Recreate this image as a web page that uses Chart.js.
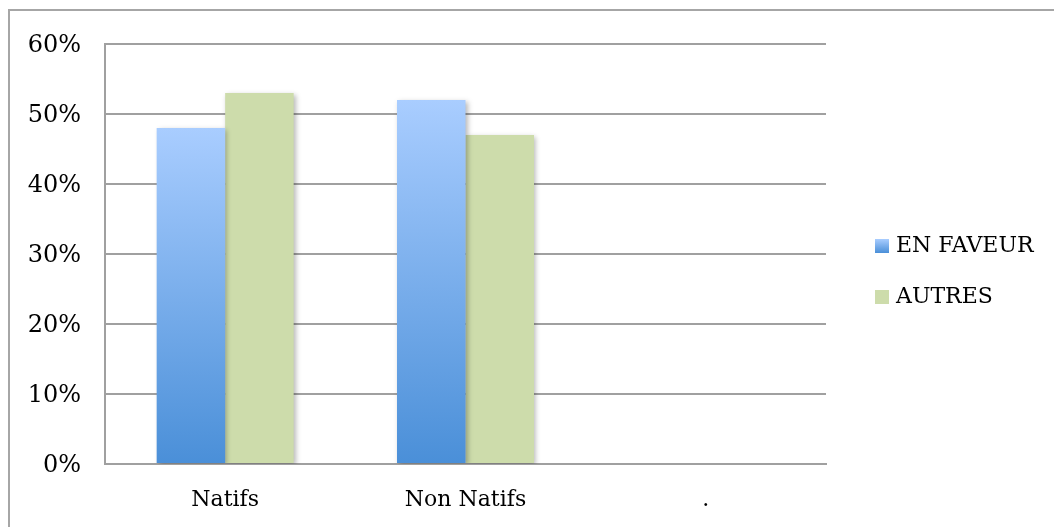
<!DOCTYPE html>
<html>
<head>
<meta charset="utf-8">
<script src="https://cdn.jsdelivr.net/npm/chart.js@4/dist/chart.umd.min.js"></script>
<style>
  html, body { margin: 0; padding: 0; background: #fff; overflow: hidden; }
  #cadre { position: absolute; left: 0; top: 0; width: 1054px; height: 527px; }
  #bordure { position: absolute; left: 8px; top: 9px; width: 1100px; height: 600px;
             border: 2px solid #a6a6a6; box-sizing: border-box; pointer-events: none; }
</style>
</head>
<body>
<div id="cadre">
  <canvas id="grafico" width="1054" height="527"></canvas>
  <div id="bordure"></div>
</div>
<script>
const categorie = ["Natifs", "Non Natifs", "."];
const enFaveur = [48, 52, null];
const autres = [53, 47, null];
const tickPercentuali = [0, 10, 20, 30, 40, 50, 60];

const fontSerif = "'DejaVu Serif', 'Liberation Serif', serif";
const bluChiaro = '#a9cdff';
const bluScuro = '#4a8fd8';
const verde = '#cddcab';

function gradiente(ctx, y0, y1) {
    const g = ctx.createLinearGradient(0, y0, 0, y1);
    g.addColorStop(0, bluChiaro);
    g.addColorStop(1, bluScuro);
    return g;
}

// gradiente verticale del blu, calcolato su ogni barra
function gradienteBlu(context) {
    const chart = context.chart;
    const yScale = chart.scales.y;
    if (!yScale || !context.parsed || context.parsed.y == null) return '#78aee8';
    const top = yScale.getPixelForValue(context.parsed.y);
    const base = yScale.getPixelForValue(0);
    if (!isFinite(top) || !isFinite(base) || top === base) return '#78aee8';
    return gradiente(chart.ctx, top, base);
}

// ombra leggera dietro le barre
const ombraBarre = {
    id: 'ombraBarre',
    beforeDatasetsDraw(chart) {
        const ctx = chart.ctx;
        ctx.save();
        ctx.shadowColor = 'rgba(0,0,0,0.28)';
        ctx.shadowBlur = 5;
        ctx.shadowOffsetX = 2;
        ctx.shadowOffsetY = 2;
    },
    afterDatasetsDraw(chart) {
        chart.ctx.restore();
    }
};

// legenda a destra dell'area del grafico
const legendaDestra = {
    id: 'legendaDestra',
    afterDraw(chart) {
        const ctx = chart.ctx;
        const area = chart.chartArea;
        const lato = 14;
        const passo = 51;
        const x = area.right + 49;
        const n = chart.data.datasets.length;
        const centro = (area.top + area.bottom) / 2 + 17;
        ctx.save();
        ctx.font = '22px ' + fontSerif;
        ctx.textBaseline = 'middle';
        ctx.textAlign = 'left';
        chart.data.datasets.forEach((ds, i) => {
            const cy = centro + (i - (n - 1) / 2) * passo;
            const y = Math.round(cy - lato / 2);
            ctx.fillStyle = i === 0 ? gradiente(ctx, y, y + lato) : ds.backgroundColor;
            ctx.fillRect(x, y, lato, lato);
            ctx.fillStyle = '#000';
            ctx.fillText(ds.label, x + 21, cy + 1);
        });
        ctx.restore();
    }
};

new Chart(document.getElementById('grafico'), {
    type: 'bar',
    data: {
        labels: categorie,
        datasets: [{
            label: 'EN FAVEUR',
            data: enFaveur,
            backgroundColor: gradienteBlu,
            borderWidth: 0
        }, {
            label: 'AUTRES',
            data: autres,
            backgroundColor: verde,
            borderWidth: 0
        }]
    },
    options: {
        responsive: false,
        animation: false,
        events: [],
        datasets: {
            bar: { categoryPercentage: 0.57, barPercentage: 1.0 }
        },
        layout: { padding: { left: 0, top: 44, right: 228, bottom: 9 } },
        scales: {
            x: {
                afterFit(scale) { scale.height = 54; },
                grid: { display: false, drawTicks: false },
                border: { display: true, color: '#a0a0a0', width: 2 },
                ticks: { color: '#000', padding: 23, font: { family: fontSerif, size: 22 } }
            },
            y: {
                min: 0,
                max: 60,
                afterBuildTicks(scale) {
                    scale.ticks = tickPercentuali.map(v => ({ value: v }));
                },
                afterFit(scale) { scale.width = 105; },
                grid: { color: '#a0a0a0', lineWidth: 2, drawTicks: false },
                border: { display: true, color: '#a0a0a0', width: 2 },
                ticks: {
                    color: '#000',
                    padding: 24,
                    labelOffset: 2,
                    font: { family: fontSerif, size: 24 },
                    callback: v => v + '%'
                }
            }
        },
        plugins: {
            legend: { display: false },
            tooltip: { enabled: false }
        }
    },
    plugins: [ombraBarre, legendaDestra]
});
</script>
</body>
</html>
